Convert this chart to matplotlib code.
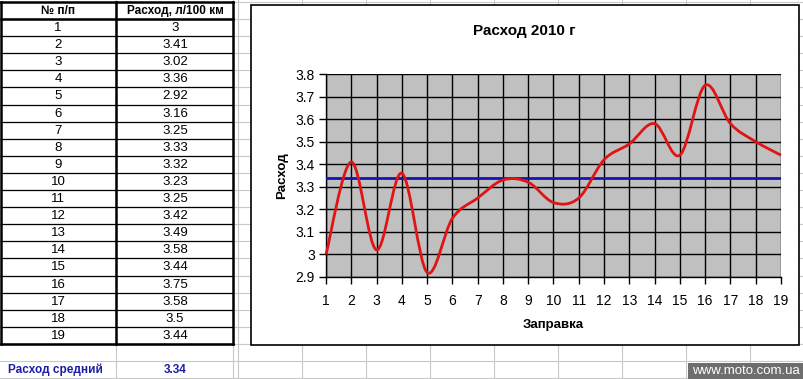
import matplotlib.pyplot as plt
from matplotlib.path import Path
from matplotlib.patches import PathPatch, Rectangle

plt.rcParams['font.family'] = ['Liberation Sans', 'DejaVu Sans']

# data
refuel_no = list(range(1, 20))
consumption = [3, 3.41, 3.02, 3.36, 2.92, 3.16, 3.25, 3.33, 3.32, 3.23,
               3.25, 3.42, 3.49, 3.58, 3.44, 3.75, 3.58, 3.5, 3.44]
consumption_txt = ['3', '3.41', '3.02', '3.36', '2.92', '3.16', '3.25', '3.33', '3.32', '3.23',
                   '3.25', '3.42', '3.49', '3.58', '3.44', '3.75', '3.58', '3.5', '3.44']
avg_consumption = 3.34
y_ticks = [2.9, 3.0, 3.1, 3.2, 3.3, 3.4, 3.5, 3.6, 3.7, 3.8]
y_tick_labels = ['2.9', '3', '3.1', '3.2', '3.3', '3.4', '3.5', '3.6', '3.7', '3.8']

W, H = 804, 379
fig = plt.figure(figsize=(W / 100, H / 100), dpi=100)

# sheet background in pixel coords
bg = fig.add_axes([0, 0, 1, 1])
bg.set_xlim(0, W)
bg.set_ylim(H, 0)
bg.axis('off')

grid_c = '#c8c8c8'
for x in [116, 233, 238] + list(range(302, 820, 64)):
    bg.plot([x, x], [0, H], color=grid_c, lw=0.8, zorder=0)
for y in [2] + [19 + 17.1 * i for i in range(22)]:
    bg.plot([0, W], [y, y], color=grid_c, lw=0.8, zorder=0)

# table
top, row_h = 2, 17.1
hdr_bot = 19
tbl_bot = hdr_bot + row_h * 19
for i in range(20):
    y = hdr_bot + row_h * i
    bg.plot([1, 233], [y, y], color='black', lw=0.9, zorder=2)
bg.plot([1, 233], [top, top], color='black', lw=1.8, zorder=3)
bg.plot([1, 233], [hdr_bot, hdr_bot], color='black', lw=1.8, zorder=3)
bg.plot([1, 233], [tbl_bot, tbl_bot], color='black', lw=1.8, zorder=3)
for x in [1, 116, 233]:
    bg.plot([x, x], [top, tbl_bot], color='black', lw=1.8, zorder=3)

bg.text(58, 11, '№ п/п', ha='center', va='center', fontsize=8.5, fontweight='bold')
bg.text(175, 11, 'Расход, л/100 км', ha='center', va='center', fontsize=8.5, fontweight='bold')
for i, (n, v) in enumerate(zip(refuel_no, consumption_txt)):
    yc = hdr_bot + row_h * (i + 0.5) + 0.5
    bg.text(58, yc, str(n), ha='center', va='center', fontsize=9.5)
    bg.text(175, yc, v, ha='center', va='center', fontsize=9.5)

bg.text(8, 370, 'Расход средний', ha='left', va='center', fontsize=8.5,
        fontweight='bold', color='#1c1ca8')
bg.text(175, 370, f'{avg_consumption:.2f}', ha='center', va='center', fontsize=8.5,
        fontweight='bold', color='#1c1ca8')

# chart box
bg.add_patch(Rectangle((251, 5), 548, 340, facecolor='white', edgecolor='black',
                       lw=1.2, zorder=4))
bg.text(524, 31, 'Расход 2010 г', ha='center', va='center', fontsize=11,
        fontweight='bold', zorder=5)

# watermark
bg.add_patch(Rectangle((688, 363), 116, 16, facecolor='#6e6e6e', edgecolor='none', zorder=6))
bg.text(746, 371.5, 'www.moto.com.ua', ha='center', va='center', fontsize=9.5,
        color='white', zorder=7)

# plot area
L, R, T, B = 326, 781, 74, 277
ax = fig.add_axes([L / W, 1 - B / H, (R - L) / W, (B - T) / H])
ax.set_facecolor('#c0c0c0')
ax.set_xlim(1, 19)
ax.set_ylim(2.9, 3.8)
ax.set_xticks(refuel_no)
ax.set_yticks(y_ticks)
ax.set_yticklabels(y_tick_labels)
ax.grid(True, color='black', lw=1.0)
ax.set_axisbelow(True)
for s in ['top', 'right']:
    ax.spines[s].set_visible(False)
for s in ['left', 'bottom']:
    ax.spines[s].set_color('black')
    ax.spines[s].set_linewidth(1.0)
ax.tick_params(direction='out', length=5, width=1, labelsize=10)
ax.tick_params(axis='x', pad=7)
ax.tick_params(axis='y', pad=3)
ax.set_xlabel('Заправка', fontsize=9.5, fontweight='bold', labelpad=8)
ax.set_ylabel('Расход', fontsize=9.5, fontweight='bold', labelpad=5)

# average line
ax.plot([1, 19], [avg_consumption, avg_consumption], color='#1414b4', lw=2, zorder=3)

# smoothed line (Catmull-Rom -> cubic Bezier, like Excel smoothing)
pts = list(zip(refuel_no, consumption))
ext = [pts[0]] + pts + [pts[-1]]
verts = [pts[0]]
codes = [Path.MOVETO]
for i in range(1, len(ext) - 2):
    p0, p1, p2, p3 = ext[i - 1], ext[i], ext[i + 1], ext[i + 2]
    c1 = (p1[0] + (p2[0] - p0[0]) / 6, p1[1] + (p2[1] - p0[1]) / 6)
    c2 = (p2[0] - (p3[0] - p1[0]) / 6, p2[1] - (p3[1] - p1[1]) / 6)
    verts += [c1, c2, p2]
    codes += [Path.CURVE4] * 3
ax.add_patch(PathPatch(Path(verts, codes), facecolor='none', edgecolor='#e01414',
                       lw=2, zorder=4, clip_on=False))

fig.savefig('out.png', dpi=100)
